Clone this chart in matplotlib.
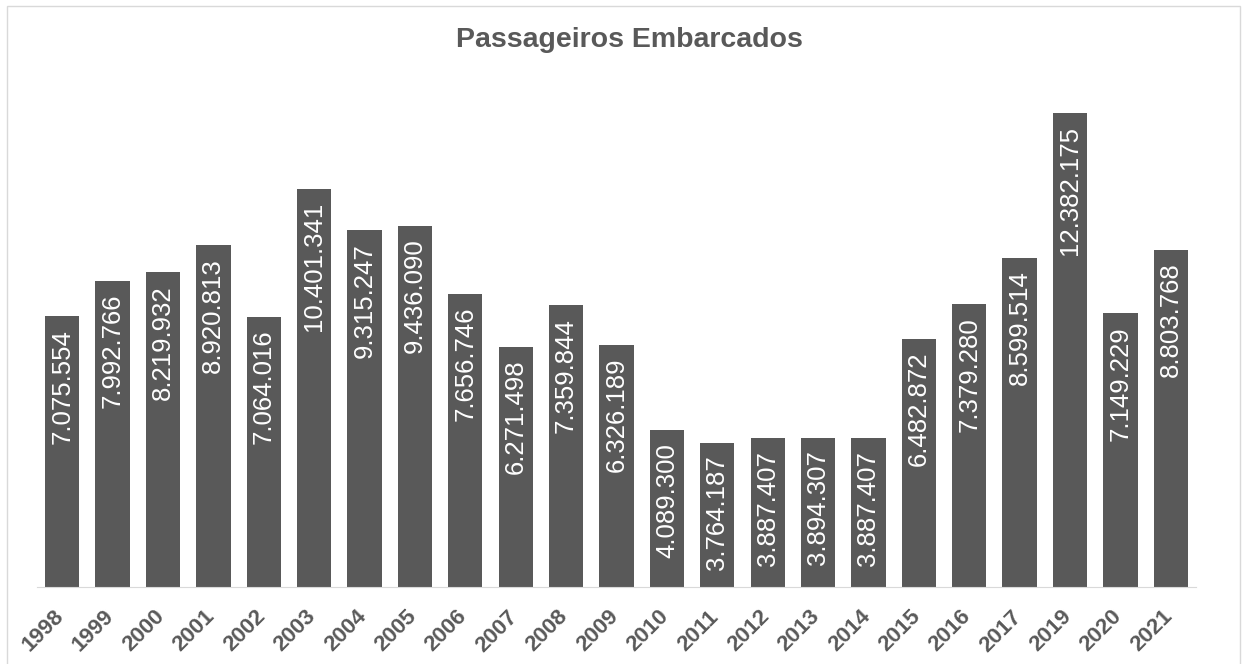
import matplotlib.pyplot as plt
from matplotlib.patches import Rectangle
from matplotlib.transforms import ScaledTranslation

anos = ['1998', '1999', '2000', '2001', '2002', '2003', '2004', '2005', '2006',
        '2007', '2008', '2009', '2010', '2011', '2012', '2013', '2014', '2015',
        '2016', '2017', '2019', '2020', '2021']
passageiros = [7075554, 7992766, 8219932, 8920813, 7064016, 10401341, 9315247,
               9436090, 7656746, 6271498, 7359844, 6326189, 4089300, 3764187,
               3887407, 3894307, 3887407, 6482872, 7379280, 8599514, 12382175,
               7149229, 8803768]

plt.rcParams['font.family'] = ['Liberation Sans', 'DejaVu Sans']
cinza = '#595959'

fig = plt.figure(figsize=(12.46, 6.64), dpi=100)
ax = fig.add_axes([37 / 1246, (664 - 587) / 664, (1196 - 37) / 1246, 536 / 664])

x = range(len(anos))
barras = ax.bar(x, passageiros, width=0.68, color=cinza)

for b, v in zip(barras, passageiros):
    rotulo = f'{v:,}'.replace(',', '.')
    ax.text(b.get_x() + b.get_width() / 2, v - 330000, rotulo, rotation=90,
            ha='center', va='top', color='white', fontsize=18.5)

ax.set_xlim(-0.5, len(anos) - 0.5)
ax.set_ylim(0, 14e6)
ax.set_yticks([])
ax.set_xticks(list(x))
ax.set_xticklabels(anos, rotation=45, ha='right', rotation_mode='anchor',
                   fontsize=16, fontweight='bold', color=cinza)
ax.tick_params(axis='x', length=0, pad=8)
desloc = ScaledTranslation(-0.09, -0.08, fig.dpi_scale_trans)
for lbl in ax.get_xticklabels():
    lbl.set_transform(lbl.get_transform() + desloc)
for s in ['top', 'right', 'left']:
    ax.spines[s].set_visible(False)
ax.spines['bottom'].set_color('#d9d9d9')

fig.text(0.505, 1 - 40 / 664, 'Passageiros Embarcados', ha='center', va='center',
         fontsize=20.5, fontweight='bold', color=cinza)

fig.patches.append(Rectangle((7 / 1246, -0.01), 1233 / 1246, 1 - 6 / 664 + 0.01,
                             transform=fig.transFigure, fill=False,
                             edgecolor='#d9d9d9', linewidth=1))

fig.savefig('out.png', dpi=100)
